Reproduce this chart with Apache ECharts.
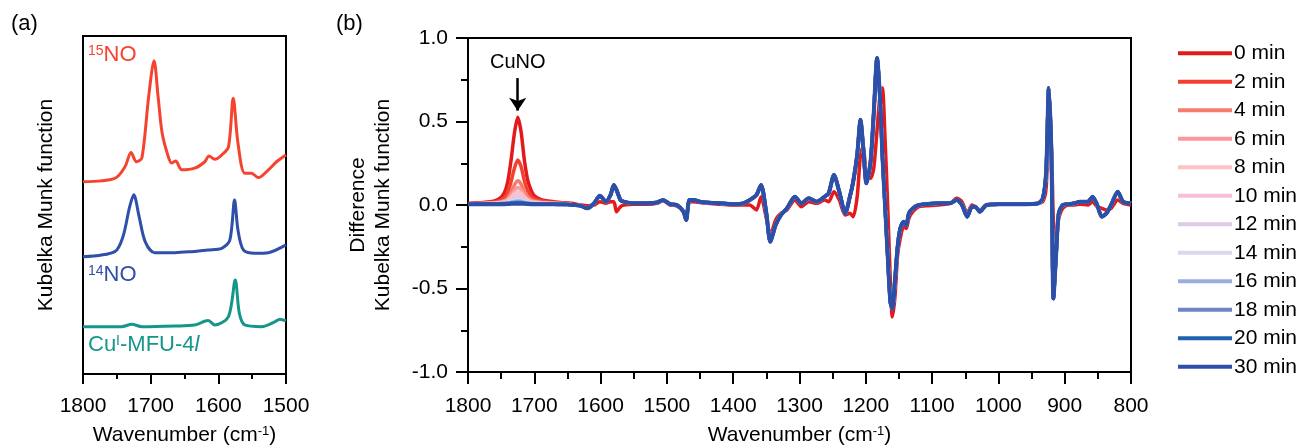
<!DOCTYPE html>
<html>
<head>
<meta charset="utf-8">
<script src="https://cdn.jsdelivr.net/npm/echarts@6/dist/echarts.min.js"></script>
<style>
  html, body { margin: 0; padding: 0; background: #fff; }
  #main { width: 1302px; height: 446px; }
</style>
</head>
<body>
<div id="main"></div>
<script>
var FONT = 'Liberation Sans, Arial, sans-serif'

// ---- panel (a): stacked spectra, values in arbitrary offset units ----
var wnA15 = [1800, 1753, 1738, 1729, 1721, 1713, 1703, 1695, 1689, 1683, 1674, 1669, 1663, 1654, 1635, 1620, 1614, 1605, 1595, 1585, 1578, 1571, 1561, 1551, 1541, 1526, 1514, 1500]
var ya15 = [56.9, 57.9, 61.3, 65.5, 62.8, 63.9, 82.0, 92.7, 82.0, 71.2, 64.3, 62.4, 63.0, 60.4, 60.9, 62.8, 64.5, 63.5, 64.8, 67.2, 81.6, 68.3, 59.4, 59.4, 58.1, 60.4, 62.8, 64.8]
var wnA14 = [1800, 1753, 1741, 1731, 1725, 1717, 1708, 1694, 1664, 1640, 1615, 1595, 1583, 1576, 1571, 1563, 1546, 1526, 1500]
var ya14 = [34.7, 36.2, 40.6, 49.5, 53.0, 46.5, 39.1, 35.9, 35.9, 36.2, 36.7, 37.2, 39.6, 51.5, 42.6, 36.7, 35.7, 35.9, 38.2]
var wnACu = [1800, 1743, 1728, 1713, 1664, 1635, 1615, 1605, 1585, 1575, 1569, 1561, 1536, 1516, 1509, 1500]
var yaCu = [14.0, 14.0, 14.7, 14.0, 14.2, 14.5, 15.8, 14.5, 17.0, 27.8, 18.0, 14.5, 14.0, 15.5, 16.2, 15.7]

// ---- panel (b): difference spectra ----
var times = ['0 min', '2 min', '4 min', '6 min', '8 min', '10 min', '12 min', '14 min', '16 min', '18 min', '20 min', '30 min']
var timeColors = ['#e31a1c', '#f4402e', '#f77b6d', '#f99a98', '#fcc3c5', '#f8bedb', '#dccbe6', '#d8d8ef', '#96afe0', '#6d85c6', '#1f63ae', '#2c4fa7']

// CuNO band, one row per time
var cunoWn = [1800, 1790, 1780, 1770, 1760, 1752, 1745, 1740, 1735, 1730, 1725, 1720, 1715, 1710, 1705, 1700, 1690, 1680, 1670, 1660, 1650]
var cunoRows = [
  [0.01, 0.012, 0.014, 0.018, 0.025, 0.04, 0.075, 0.14, 0.27, 0.43, 0.525, 0.44, 0.27, 0.15, 0.09, 0.055, 0.032, 0.024, 0.019, 0.015, 0.012],
  [0.008, 0.01, 0.012, 0.014, 0.018, 0.026, 0.045, 0.075, 0.14, 0.22, 0.27, 0.23, 0.145, 0.085, 0.055, 0.037, 0.024, 0.019, 0.015, 0.012, 0.01],
  [0.007, 0.008, 0.01, 0.012, 0.014, 0.018, 0.028, 0.042, 0.078, 0.12, 0.145, 0.125, 0.078, 0.048, 0.033, 0.024, 0.017, 0.014, 0.012, 0.01, 0.008],
  [0.006, 0.007, 0.008, 0.01, 0.012, 0.015, 0.022, 0.033, 0.058, 0.088, 0.105, 0.09, 0.058, 0.036, 0.025, 0.019, 0.014, 0.012, 0.01, 0.008, 0.007],
  [0.006, 0.007, 0.008, 0.009, 0.011, 0.013, 0.019, 0.027, 0.045, 0.068, 0.08, 0.07, 0.046, 0.029, 0.02, 0.016, 0.012, 0.01, 0.009, 0.007, 0.006],
  [0.006, 0.006, 0.007, 0.008, 0.01, 0.012, 0.016, 0.021, 0.035, 0.051, 0.06, 0.053, 0.035, 0.023, 0.017, 0.013, 0.01, 0.009, 0.008, 0.006, 0.005],
  [0.005, 0.006, 0.006, 0.007, 0.009, 0.011, 0.013, 0.017, 0.027, 0.039, 0.045, 0.04, 0.027, 0.019, 0.014, 0.011, 0.009, 0.008, 0.007, 0.005, 0.005],
  [0.005, 0.005, 0.006, 0.007, 0.008, 0.01, 0.012, 0.015, 0.021, 0.029, 0.033, 0.03, 0.021, 0.015, 0.012, 0.01, 0.008, 0.007, 0.006, 0.005, 0.004],
  [0.005, 0.005, 0.006, 0.006, 0.007, 0.009, 0.01, 0.012, 0.016, 0.021, 0.024, 0.022, 0.016, 0.012, 0.01, 0.008, 0.007, 0.006, 0.005, 0.005, 0.004],
  [0.005, 0.005, 0.005, 0.006, 0.007, 0.008, 0.009, 0.01, 0.012, 0.015, 0.017, 0.016, 0.012, 0.01, 0.008, 0.007, 0.006, 0.005, 0.005, 0.004, 0.004],
  [0.005, 0.005, 0.005, 0.006, 0.006, 0.007, 0.008, 0.009, 0.01, 0.011, 0.012, 0.011, 0.01, 0.008, 0.007, 0.006, 0.005, 0.005, 0.004, 0.004, 0.003],
  [0.005, 0.005, 0.005, 0.005, 0.005, 0.005, 0.005, 0.006, 0.007, 0.008, 0.008, 0.008, 0.007, 0.006, 0.005, 0.005, 0.004, 0.004, 0.004, 0.003, 0.003]
]

// rest of the range: 30 min trace (blue) and 0 min trace (red)
var restWn = [1640, 1630, 1620, 1610, 1601, 1592, 1585, 1580, 1576, 1570, 1565, 1550, 1530, 1515, 1506, 1495, 1485, 1475, 1471, 1466, 1460, 1450, 1440, 1420, 1400, 1385, 1375, 1365, 1358, 1350, 1344, 1336, 1328, 1319, 1307, 1297, 1286, 1274, 1262, 1256, 1248, 1240, 1231, 1224, 1219, 1213, 1208, 1204, 1199, 1193, 1188, 1183, 1178, 1175, 1171, 1167, 1163, 1160, 1156, 1152, 1148, 1143, 1139, 1135, 1129, 1120, 1110, 1090, 1073, 1063, 1055, 1047, 1040, 1035, 1028, 1018, 1000, 960, 940, 933, 928, 924, 920, 917, 913, 909, 903, 895, 885, 877, 865, 858, 851, 844, 837, 830, 820, 812, 800]
var rest30 = [0.0, -0.005, -0.02, 0.01, 0.055, 0.02, 0.06, 0.12, 0.09, 0.03, 0.02, 0.01, 0.01, 0.015, 0.03, 0.005, 0.0, -0.04, -0.09, 0.03, 0.03, 0.02, 0.015, 0.01, 0.005, 0.01, 0.03, 0.06, 0.12, -0.05, -0.22, -0.12, -0.06, -0.02, 0.05, 0.01, 0.04, 0.02, 0.05, 0.07, 0.18, 0.08, -0.05, 0.05, 0.14, 0.3, 0.51, 0.35, 0.13, 0.25, 0.55, 0.88, 0.6, 0.3, 0.0, -0.3, -0.58, -0.62, -0.45, -0.25, -0.14, -0.1, -0.12, -0.05, -0.02, 0.0, 0.005, 0.01, 0.01, 0.03, 0.0, -0.07, -0.01, -0.01, -0.04, 0.0, 0.005, 0.005, 0.01, 0.04, 0.2, 0.7, 0.3, -0.56, -0.3, -0.05, 0.0, 0.005, 0.01, 0.02, 0.02, 0.05, 0.0, -0.07, -0.05, 0.0, 0.08, 0.02, 0.01]
var rest0 = [0.008, 0.0, -0.005, 0.0, 0.02, 0.01, 0.02, 0.02, -0.04, -0.01, 0.0, 0.005, 0.005, 0.01, 0.025, 0.0, -0.005, -0.04, -0.08, 0.02, 0.02, 0.015, 0.01, 0.005, 0.0, 0.0, 0.0, -0.03, 0.05, -0.08, -0.18, -0.09, -0.05, -0.03, 0.03, -0.01, 0.02, 0.01, 0.03, 0.02, 0.08, 0.03, -0.06, -0.05, -0.07, 0.05, 0.3, 0.35, 0.18, 0.16, 0.22, 0.45, 0.68, 0.7, 0.4, 0.0, -0.45, -0.67, -0.55, -0.3, -0.2, -0.13, -0.14, -0.08, -0.04, -0.01, -0.005, 0.0, 0.01, 0.04, 0.02, -0.05, 0.0, -0.01, -0.03, 0.0, 0.005, 0.005, 0.01, 0.02, 0.1, 0.45, 0.35, -0.1, -0.2, -0.08, -0.02, 0.0, 0.0, 0.005, 0.0, 0.02, -0.01, -0.02, -0.03, -0.02, 0.03, 0.01, 0.0]

function pairs(xs, ys) {
  return xs.map(function(x, i) { return [x, ys[i]] })
}

var myChart = echarts.init(document.getElementById('main'), null, { renderer: 'canvas' })

var supRich = {
  sup: { fontSize: 13, verticalAlign: 'top', lineHeight: 14, fontFamily: FONT, color: '#000' }
}
var black2 = { color: '#000', width: 2 }
var tickFont = { fontSize: 21, color: '#000', fontFamily: FONT }

var seriesB = times.map(function(name, k) {
  var ys = k === 0 ? rest0 : rest30
  var s = {
    name: name,
    type: 'line',
    xAxisIndex: 1,
    yAxisIndex: 1,
    showSymbol: false,
    smooth: 0.25,
    data: pairs(cunoWn, cunoRows[k]).concat(pairs(restWn, ys)),
    lineStyle: { color: timeColors[k], width: k === 11 ? 4 : 3.5 },
    itemStyle: { color: timeColors[k] },
    z: 2 + k
  }
  if (k === 11) {
    // arrow pointing at the CuNO peak
    s.markLine = {
      silent: true,
      symbol: ['none', 'arrow'],
      symbolSize: [13, 13],
      lineStyle: { color: '#000', width: 2.5, type: 'solid' },
      label: { show: true, position: 'start', formatter: 'CuNO', color: '#000', fontSize: 20, fontFamily: FONT, distance: 6 },
      data: [[{ coord: [1725, 0.76] }, { coord: [1725, 0.565] }]]
    }
  }
  return s
})

// short ticks between the labelled ones
function minorX(grid, min, max) {
  return {
    type: 'value', gridIndex: grid, inverse: true, min: min, max: max, interval: 50, position: 'bottom',
    axisLine: { show: false, onZero: false }, axisLabel: { show: false }, splitLine: { show: false },
    axisTick: { length: grid === 0 ? 5 : 7, lineStyle: black2 }
  }
}

var option = {
  animation: false,
  backgroundColor: '#fff',
  textStyle: { fontFamily: FONT },
  title: [
    { text: '(a)', left: 6, top: 8, textStyle: { fontSize: 22, fontWeight: 'normal', color: '#000', fontFamily: FONT } },
    { text: '(b)', left: 331, top: 8, textStyle: { fontSize: 22, fontWeight: 'normal', color: '#000', fontFamily: FONT } }
  ],
  legend: {
    orient: 'vertical',
    left: 1173,
    top: 34,
    icon: 'rect',
    itemWidth: 54,
    itemHeight: 4,
    itemGap: 0,
    data: times,
    textStyle: { fontSize: 21, color: '#000', fontFamily: FONT, lineHeight: 28.5, padding: [0, 0, 0, -3] }
  },
  grid: [
    { left: 83, right: 1016, top: 36, bottom: 72, show: true, borderColor: '#000', borderWidth: 2, outerBoundsMode: 'none' },
    { left: 468, right: 171, top: 38, bottom: 74, show: true, borderColor: '#000', borderWidth: 2, outerBoundsMode: 'none' }
  ],
  xAxis: [
    {
      type: 'value', gridIndex: 0, inverse: true, min: 1500, max: 1800, interval: 100, position: 'bottom',
      name: 'Wavenumber (cm{sup|-1})', nameLocation: 'middle', nameGap: 51,
      nameTextStyle: { fontSize: 21, color: '#000', fontFamily: FONT, rich: supRich },
      axisLine: { onZero: false, lineStyle: black2 },
      axisTick: { length: 10, lineStyle: black2 },
      axisLabel: Object.assign({ margin: 22, formatter: function(v) { return String(v) } }, tickFont),
      splitLine: { show: false }
    },
    {
      type: 'value', gridIndex: 1, inverse: true, min: 800, max: 1800, interval: 100, position: 'bottom',
      name: 'Wavenumber (cm{sup|-1})', nameLocation: 'middle', nameGap: 53,
      nameTextStyle: { fontSize: 21, color: '#000', fontFamily: FONT, rich: supRich },
      axisLine: { onZero: false, lineStyle: black2 },
      axisTick: { length: 12, lineStyle: black2 },
      axisLabel: Object.assign({ margin: 24, formatter: function(v) { return String(v) } }, tickFont),
      splitLine: { show: false }
    },
    minorX(0, 1500, 1800),
    minorX(1, 800, 1800)
  ],
  yAxis: [
    {
      type: 'value', gridIndex: 0, min: 0, max: 100,
      name: 'Kubelka Munk function', nameLocation: 'middle', nameGap: 26,
      nameTextStyle: { fontSize: 21, color: '#000', fontFamily: FONT },
      axisLine: { show: true, onZero: false, lineStyle: black2 },
      axisTick: { show: false },
      axisLabel: { show: false },
      splitLine: { show: false }
    },
    {
      type: 'value', gridIndex: 1, min: -1, max: 1, interval: 0.5, position: 'left',
      name: 'Difference\nKubelka Munk function', nameLocation: 'middle', nameGap: 72,
      nameTextStyle: { fontSize: 21, color: '#000', fontFamily: FONT, lineHeight: 25 },
      axisLine: { show: true, onZero: false, lineStyle: black2 },
      axisTick: { length: 12, lineStyle: black2 },
      axisLabel: Object.assign({ margin: 20, formatter: function(v) { return v.toFixed(1) } }, tickFont),
      splitLine: { show: false }
    },
    {
      type: 'value', gridIndex: 1, min: -1, max: 1, interval: 0.25, position: 'left',
      axisLine: { show: false, onZero: false }, axisLabel: { show: false }, splitLine: { show: false },
      axisTick: { length: 7, lineStyle: black2 }
    }
  ],
  graphic: [
    { type: 'text', left: 88, top: 44, style: { text: '{s|15}{n|NO}', fill: '#f5432f', rich: { s: { fontSize: 14, verticalAlign: 'top', fontFamily: FONT, fill: '#f5432f' }, n: { fontSize: 22, fontFamily: FONT, fill: '#f5432f' } } } },
    { type: 'text', left: 88, top: 264, style: { text: '{s|14}{n|NO}', fill: '#2f4fa8', rich: { s: { fontSize: 14, verticalAlign: 'top', fontFamily: FONT, fill: '#2f4fa8' }, n: { fontSize: 22, fontFamily: FONT, fill: '#2f4fa8' } } } },
    { type: 'text', left: 88, top: 334, style: { text: '{n|Cu}{s|I}{n|-MFU-4}{i|l}', fill: '#16968a', rich: { s: { fontSize: 14, verticalAlign: 'top', fontFamily: FONT, fill: '#16968a' }, n: { fontSize: 22, fontFamily: FONT, fill: '#16968a' }, i: { fontSize: 22, fontStyle: 'italic', fontFamily: FONT, fill: '#16968a' } } } }
  ],
  series: [
    { name: '15NO', type: 'line', xAxisIndex: 0, yAxisIndex: 0, showSymbol: false, smooth: 0.3, data: pairs(wnA15, ya15), lineStyle: { color: '#f5432f', width: 3 } },
    { name: '14NO', type: 'line', xAxisIndex: 0, yAxisIndex: 0, showSymbol: false, smooth: 0.3, data: pairs(wnA14, ya14), lineStyle: { color: '#2f4fa8', width: 3 } },
    { name: 'CuI-MFU-4l', type: 'line', xAxisIndex: 0, yAxisIndex: 0, showSymbol: false, smooth: 0.3, data: pairs(wnACu, yaCu), lineStyle: { color: '#16968a', width: 3 } }
  ].concat(seriesB)
}

myChart.setOption(option)
</script>
</body>
</html>
